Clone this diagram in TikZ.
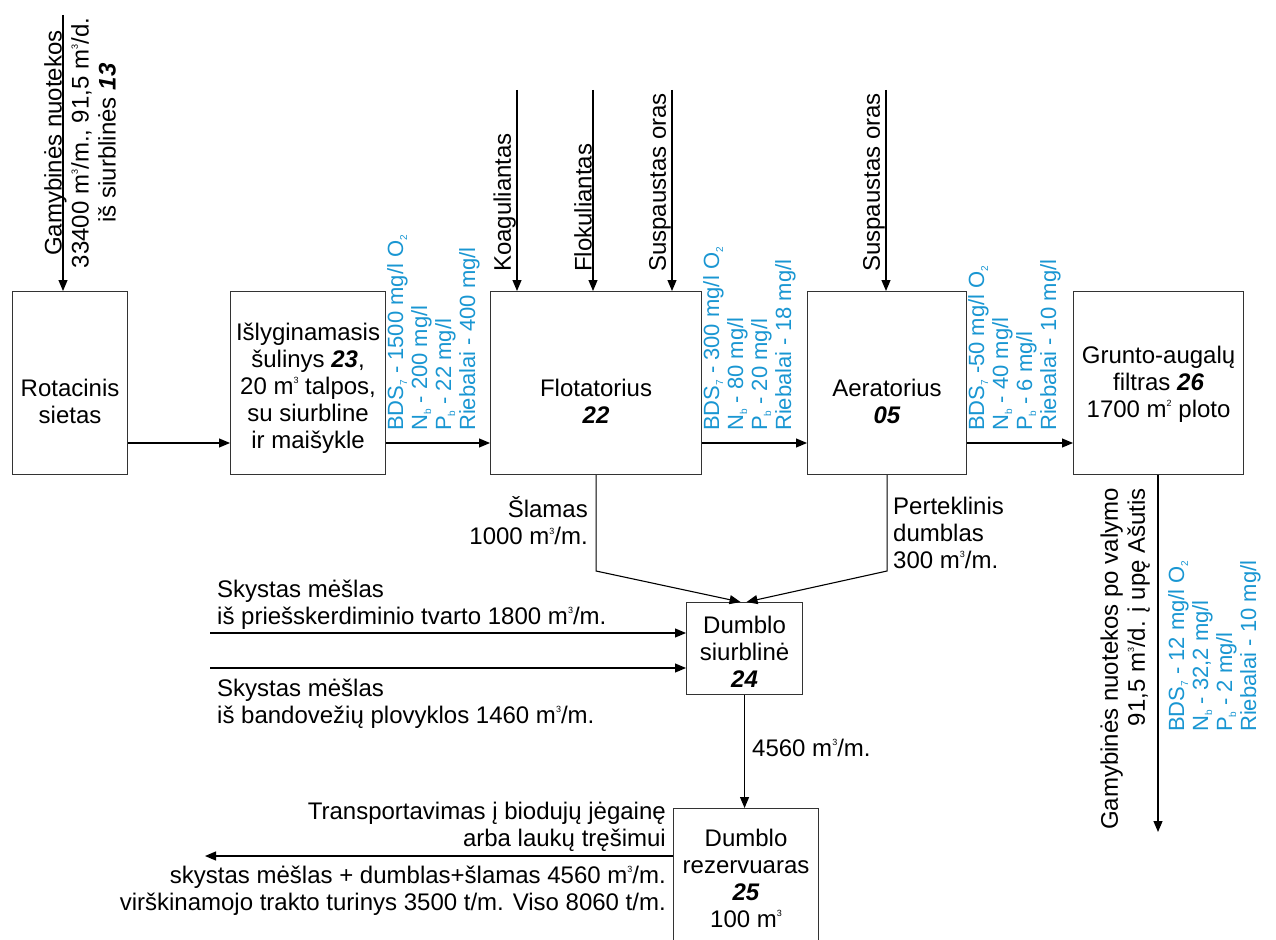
\documentclass[tikz,border=0pt]{standalone}
\usepackage{fontspec}
\setmainfont{Liberation Sans}
\usetikzlibrary{arrows.meta}
\definecolor{lblue}{RGB}{25,150,210}
\newcommand{\supx}[1]{\raisebox{0.85ex}{\fontsize{9}{9}\selectfont #1}}
\newcommand{\subx}[1]{\raisebox{-0.35ex}{\fontsize{10}{10}\selectfont #1}}
\newcommand{\bnum}[1]{\textbf{\textit{#1}}}
\begin{document}
\begin{tikzpicture}[x=1pt,y=1pt,
  box/.style={draw=black!80, line width=1.1pt, inner sep=0pt, anchor=north west},
  txt/.style={inner sep=0pt, align=center, font=\fontsize{24}{27}\selectfont},
  vlab/.style={inner sep=0pt, rotate=90, font=\fontsize{24}{27}\selectfont},
  blu/.style={inner sep=0pt, text=lblue, align=left, rotate=90, anchor=north west, font=\fontsize{22}{24}\selectfont},
  arr/.style={line width=1.1pt, -{Triangle[length=11pt,width=9pt]}},
  ln/.style={line width=1.1pt}]
\useasboundingbox (0,0) rectangle (1276,-939);

% boxes
\node[box, minimum width=115pt, minimum height=183pt] (rot) at (12,-291) {};
\node[box, minimum width=155pt, minimum height=183pt] (isl) at (230,-291) {};
\node[box, minimum width=211pt, minimum height=183pt] (flot) at (490,-291) {};
\node[box, minimum width=159pt, minimum height=183pt] (aer) at (807,-291) {};
\node[box, minimum width=170pt, minimum height=183pt] (grunt) at (1073,-291) {};
\node[box, minimum width=116pt, minimum height=92pt] (siurb) at (686,-602) {};
\node[box, minimum width=145pt, minimum height=145pt] (rez) at (673,-808) {};

% box texts
\node[txt] (rott) at (rot.center |- 0,-401) {Rotacinis\\sietas};
\node[txt] (islt) at (isl.center |- 0,-388) {Išlyginamasis\\šulinys \bnum{23},\\20 m\supx{3} talpos,\\su siurbline\\ir maišykle};
\node[txt] (flott) at (flot.center |- 0,-401) {Flotatorius\\\bnum{22}};
\node[txt] (aert) at (aer.center |- 0,-401) {Aeratorius\\\bnum{05}};
\node[txt] (gruntt) at (grunt.center |- 0,-384) {Grunto-augalų\\filtras \bnum{26}\\1700 m\supx{2} ploto};
\node[txt] (siurbt) at (siurb.center |- 0,-652) {Dumblo\\siurblinė\\\bnum{24}};
\node[txt] (rezt) at (rez.center |- 0,-878) {Dumblo\\rezervuaras\\\bnum{25}\\100 m\supx{3}};

% coordinates
\coordinate (fy) at (0,-443);
\coordinate (in0) at (63,-15);
\coordinate (k1) at (517,-90);
\coordinate (k2) at (593,-90);
\coordinate (k3) at (672,-90);
\coordinate (k4) at (886,-90);
\coordinate (knee) at (0,-571);
\coordinate (s1) at (210,-633);
\coordinate (s2) at (210,-668);
\coordinate (outl) at (205,-856);
\coordinate (outr) at (1158,-832);

% main flow
\draw[arr] (in0) -- (in0 |- rot.north);
\draw[arr] (rot.east |- fy) -- (isl.west |- fy);
\draw[arr] (isl.east |- fy) -- (flot.west |- fy);
\draw[arr] (flot.east |- fy) -- (aer.west |- fy);
\draw[arr] (aer.east |- fy) -- (grunt.west |- fy);
\draw[arr] (k1) -- (k1 |- flot.north);
\draw[arr] (k2) -- (k2 |- flot.north);
\draw[arr] (k3) -- (k3 |- flot.north);
\draw[arr] (k4) -- (k4 |- aer.north);
\draw[arr] (flot.south) -- (flot.south |- knee) -- ([xshift=-4pt]siurb.north);
\draw[arr] (aer.south) -- (aer.south |- knee) -- ([xshift=2pt]siurb.north);
\draw[arr] (s1) -- (s1 -| siurb.west);
\draw[arr] (s2) -- (s2 -| siurb.west);
\draw[arr] (siurb.south) -- (siurb.south |- rez.north);
\draw[arr] (rez.west |- outl) -- (outl);
\draw[arr] (grunt.south -| outr) -- (outr);

% vertical labels
\node[vlab, align=center] (inlab) at (80,-143) {Gamybinės nuotekos\\33400 m\supx{3}/m., 91,5 m\supx{3}/d.\\iš siurblinės \bnum{13}};
\node[vlab, anchor=south west] (koag) at ([xshift=-1pt]k1 |- 0,-272) {Koaguliantas};
\node[vlab, anchor=south west] (flok) at ([xshift=-1pt]k2 |- 0,-272) {Flokuliantas};
\node[vlab, anchor=south west] (oras1) at ([xshift=-1pt]k3 |- 0,-272) {Suspaustas oras};
\node[vlab, anchor=south west] (oras2) at ([xshift=-1pt]k4 |- 0,-272) {Suspaustas oras};
\node[vlab, align=right, anchor=south east] (outlab) at (1150,-488) {Gamybinės nuotekos po valymo\\91,5 m\supx{3}/d. į upę Ašutis};

% blue quality labels
\node[blu] (q1) at (387,-431) {BDS\subx{7} - 1500 mg/l O\subx{2}\\N\subx{b} - 200 mg/l\\P\subx{b} - 22 mg/l\\Riebalai - 400 mg/l};
\node[blu] (q2) at (703,-431) {BDS\subx{7} - 300 mg/l O\subx{2}\\N\subx{b} - 80 mg/l\\P\subx{b} - 20 mg/l\\Riebalai - 18 mg/l};
\node[blu] (q3) at (968,-431) {BDS\subx{7} -50 mg/l O\subx{2}\\N\subx{b} - 40 mg/l\\P\subx{b} - 6 mg/l\\Riebalai - 10 mg/l};
\node[blu] (q4) at (1168,-732) {BDS\subx{7} - 12 mg/l O\subx{2}\\N\subx{b} - 32,2 mg/l\\P\subx{b} - 2 mg/l\\Riebalai - 10 mg/l};

% horizontal labels
\node[txt, align=right, anchor=east] (slam) at (588,-521) {Šlamas\\1000 m\supx{3}/m.};
\node[txt, align=left, anchor=west] (pert) at (893,-533) {Perteklinis\\dumblas\\300 m\supx{3}/m.};
\node[txt, anchor=west] (q4560) at (752,-748) {4560 m\supx{3}/m.};
\node[txt, align=left, anchor=west] (sk1) at (217,-605) {Skystas mėšlas\\iš priešskerdiminio tvarto 1800 m\supx{3}/m.};
\node[txt, align=left, anchor=west] (sk2) at (217,-704) {Skystas mėšlas\\iš bandovežių plovyklos 1460 m\supx{3}/m.};
\node[txt, align=right, anchor=east] (trans) at (666,-827) {Transportavimas į biodujų jėgainę\\arba laukų tręšimui};
\node[txt, align=right, anchor=east] (mix) at (666,-891) {skystas mėšlas + dumblas+šlamas 4560 m\supx{3}/m.\\virškinamojo trakto turinys 3500 t/m. Viso 8060 t/m.};
\end{tikzpicture}
\end{document}
